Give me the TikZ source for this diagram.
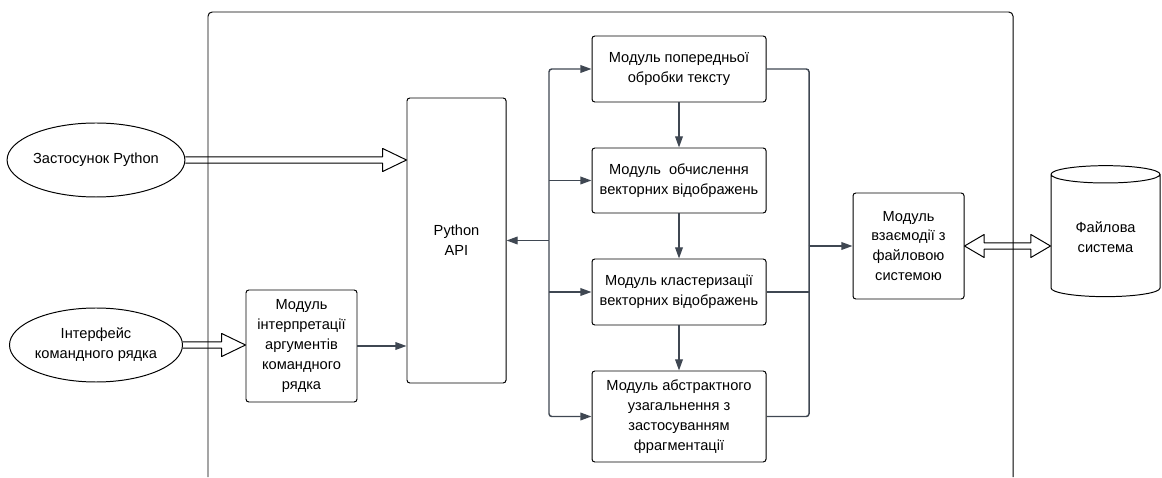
\documentclass[tikz,border=0pt]{standalone}
\usepackage{fontspec}
\setmainfont{Liberation Sans}
\usepackage{tikz}
\usetikzlibrary{shapes.geometric, arrows.meta, calc}

\definecolor{linkgray}{HTML}{3F4752}

\tikzset{
  hollow/.style={draw=black, line width=0.7pt, line join=round, to path={
    let \p1=(\tikztostart), \p2=(\tikztotarget) in
    (\x1,\y1+2.3pt) -- (\x2-17pt,\y1+2.3pt) -- (\x2-17pt,\y1+8.2pt) -- (\x2,\y1)
    -- (\x2-17pt,\y1-8.2pt) -- (\x2-17pt,\y1-2.3pt) -- (\x1,\y1-2.3pt)}},
  hollowboth/.style={draw=black, line width=0.7pt, line join=round, to path={
    let \p1=(\tikztostart), \p2=(\tikztotarget) in
    (\x1,\y1) -- (\x1+14pt,\y1+8.2pt) -- (\x1+14pt,\y1+2.3pt) -- (\x2-14pt,\y1+2.3pt)
    -- (\x2-14pt,\y1+8.2pt) -- (\x2,\y1) -- (\x2-14pt,\y1-8.2pt) -- (\x2-14pt,\y1-2.3pt)
    -- (\x1+14pt,\y1-2.3pt) -- (\x1+14pt,\y1-8.2pt) -- cycle}}
}

\begin{document}
\begin{tikzpicture}[
    >={Triangle[length=8pt, width=5.5pt]},
    box/.style={draw, rounded corners=2pt, line width=0.7pt, align=center, inner sep=2pt,
      minimum width=#1, font=\fontsize{10.4}{14.2}\selectfont},
    box/.default={4.35cm},
    oval/.style={draw, ellipse, line width=0.7pt, minimum width=4.325cm, minimum height=1.85cm,
      inner sep=0pt, align=center, font=\fontsize{10.4}{14.2}\selectfont},
    db/.style={draw, cylinder, shape border rotate=90, aspect=0.25, line width=0.7pt,
      minimum width=2.725cm, minimum height=3.275cm, align=center, font=\fontsize{10.4}{14.2}\selectfont},
    link/.style={draw=linkgray, line width=1.05pt, rounded corners=2pt}
]
\useasboundingbox (0,0) rectangle (29.05,11.925);

% Outer frame (open at the bottom)
\draw[line width=0.7pt, rounded corners=3pt] (5.2,0) -- (5.2,11.625) -- (25.325,11.625) -- (25.325,0);

% Clients
\node[oval] (app) at (2.4,7.925) {Застосунок Python};
\node[oval] (cli) at (2.4,3.3) {Інтерфейс\\командного рядка};

% Entry points
\node[box=2.775cm, minimum height=2.8cm] (args) at (7.5375,3.275) {Модуль\\інтерпретації\\аргументів\\командного\\рядка};
\node[box=2.475cm, minimum height=7.125cm] (api) at (11.4125,5.9125) {Python\\API};

% Processing modules
\node[box, minimum height=1.65cm] (prep) at (16.975,10.2) {Модуль попередньої\\обробки тексту};
\node[box, minimum height=1.625cm] (embed) at (16.975,7.4125) {Модуль\ \ обчислення\\векторних відображень};
\node[box, minimum height=1.65cm] (clust) at (16.975,4.625) {Модуль кластеризації\\векторних відображень};
\node[box, minimum height=2.275cm] (summ) at (16.975,1.5125) {Модуль абстрактного\\узагальнення з\\застосуванням\\фрагментації};

% File system side
\node[box=2.775cm, minimum height=2.65cm] (fileio) at (22.7125,5.775) {Модуль\\взаємодії з\\файловою\\системою};
\node[db] (fs) at (27.6375,5.9875) {Файлова\\система};

% Bus rails
\coordinate (busL) at (13.725,0);
\coordinate (busR) at (20.225,0);

% Hollow arrows
\draw[hollow] (app.east) to (app.east -| api.west);
\draw[hollow] (cli.east) to (cli.east -| args.west);
\draw[hollowboth] (fileio.east) to (fileio.east -| fs.west);

% Arrows
\draw[link, ->] (args.east) -- (args.east -| api.west);
\draw[link, ->] (busL |- api.east) -- (api.east);
\draw[link, ->] (busL |- api.east) |- (prep.west);
\draw[link, ->] (busL |- api.east) |- (summ.west);
\draw[link, ->] (busL |- embed.west) -- (embed.west);
\draw[link, ->] (busL |- clust.west) -- (clust.west);
\draw[link, ->] (prep) -- (embed);
\draw[link, ->] (embed) -- (clust);
\draw[link, ->] (clust) -- (summ);
\draw[link] (prep.east) -| (busR |- fileio.west);
\draw[link] (summ.east) -| (busR |- fileio.west);
\draw[link] (clust.east) -- (busR |- clust.east);
\draw[link, ->] (busR |- fileio.west) -- (fileio.west);

\end{tikzpicture}
\end{document}
